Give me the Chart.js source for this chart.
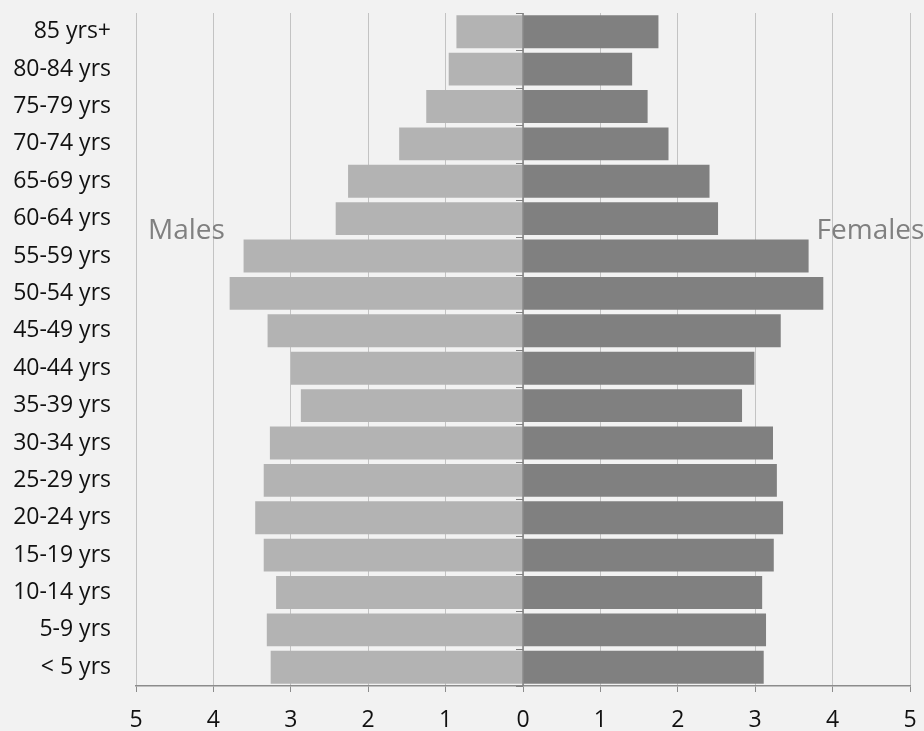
<!DOCTYPE html>
<html>
<head>
<meta charset="utf-8">
<script src="https://cdn.jsdelivr.net/npm/chart.js@4/dist/chart.umd.min.js"></script>
<style>
  html, body { margin: 0; padding: 0; background: #f2f2f2; }
  #c { display: block; }
</style>
</head>
<body>
<canvas id="c" width="924" height="731" style="width:924px;height:731px"></canvas>
<script>
// Age groups, bottom to top
const categories = ['< 5 yrs','5-9 yrs','10-14 yrs','15-19 yrs','20-24 yrs','25-29 yrs','30-34 yrs','35-39 yrs','40-44 yrs','45-49 yrs','50-54 yrs','55-59 yrs','60-64 yrs','65-69 yrs','70-74 yrs','75-79 yrs','80-84 yrs','85 yrs+'];
// Percent of population
const males   = [3.26,3.31,3.19,3.35,3.46,3.35,3.27,2.87,3.00,3.30,3.79,3.61,2.42,2.26,1.60,1.25,0.96,0.86];
const females = [3.11,3.14,3.09,3.24,3.36,3.28,3.23,2.83,2.99,3.33,3.88,3.69,2.52,2.41,1.88,1.61,1.41,1.75];
const xTickValues = [-5,-4,-3,-2,-1,0,1,2,3,4,5];
const seriesNames = ['Males', 'Females'];

const FONT = '"Open Sans", "Liberation Sans", sans-serif';

const bgPlugin = {
  id: 'bg',
  beforeDraw(chart) {
    const ctx = chart.ctx;
    ctx.save();
    ctx.fillStyle = '#f2f2f2';
    ctx.fillRect(0, 0, chart.width, chart.height);
    ctx.restore();
  }
};

const overlayPlugin = {
  id: 'overlay',
  afterDatasetsDraw(chart) {
    const ctx = chart.ctx;
    const xs = chart.scales.x, ys = chart.scales.y;
    const zx = Math.round(xs.getPixelForValue(0));
    const band = Math.abs(ys.getPixelForValue(1) - ys.getPixelForValue(0));
    ctx.save();
    ctx.strokeStyle = '#808080';
    ctx.lineWidth = 1.5;
    ctx.beginPath();
    ctx.moveTo(zx, chart.chartArea.top);
    ctx.lineTo(zx, chart.chartArea.bottom);
    ctx.stroke();
    ctx.lineWidth = 1;
    for (let i = 0; i <= categories.length; i++) {
      const y = Math.round(ys.getPixelForValue(i) + band / 2) + 0.5;
      ctx.beginPath();
      ctx.moveTo(zx - 7, y);
      ctx.lineTo(zx, y);
      ctx.stroke();
    }
    // series labels
    ctx.fillStyle = '#808080';
    ctx.font = '28px ' + FONT;
    ctx.textBaseline = 'alphabetic';
    const yLab = ys.getPixelForValue(12) + 20;
    ctx.textAlign = 'left';
    ctx.fillText(seriesNames[0], xs.getPixelForValue(-5) + 12, yLab);
    ctx.fillText(seriesNames[1], xs.getPixelForValue(4) - 16, yLab);
    ctx.restore();
  }
};

new Chart(document.getElementById('c'), {
  type: 'bar',
  data: {
    labels: categories,
    datasets: [
      { label: seriesNames[0], data: males.map(v => -v), backgroundColor: '#b3b3b3', barPercentage: 0.88, categoryPercentage: 1.0 },
      { label: seriesNames[1], data: females, backgroundColor: '#808080', barPercentage: 0.88, categoryPercentage: 1.0 }
    ]
  },
  options: {
    indexAxis: 'y',
    responsive: false,
    animation: false,
    layout: { padding: { top: 13, right: 14, left: 0, bottom: 0 } },
    plugins: { legend: { display: false }, tooltip: { enabled: false } },
    scales: {
      x: {
        stacked: true,
        min: -5, max: 5,
        afterBuildTicks(scale) { scale.ticks = xTickValues.map(v => ({ value: v })); },
        afterFit(scale) { scale.height = 45; scale.paddingLeft = 0; scale.paddingRight = 0; },
        grid: {
          color: '#c3c3c3',
          lineWidth: 1,
          drawTicks: true,
          tickLength: 6,
          tickColor: '#8c8c8c'
        },
        border: { display: true, color: '#8c8c8c', width: 1.5 },
        ticks: {
          color: '#111',
          font: { family: FONT, size: 23 },
          padding: 15,
          maxRotation: 0,
          callback: v => String(Math.abs(v))
        }
      },
      y: {
        stacked: true,
        reverse: true,
        afterFit(scale) { scale.width = 136; scale.paddingTop = 0; scale.paddingBottom = 0; },
        grid: { display: false, drawTicks: false },
        border: { display: false },
        ticks: {
          color: '#111',
          font: { family: FONT, size: 23 },
          padding: 25,
          autoSkip: false
        }
      }
    }
  },
  plugins: [bgPlugin, overlayPlugin]
});
</script>
</body>
</html>
